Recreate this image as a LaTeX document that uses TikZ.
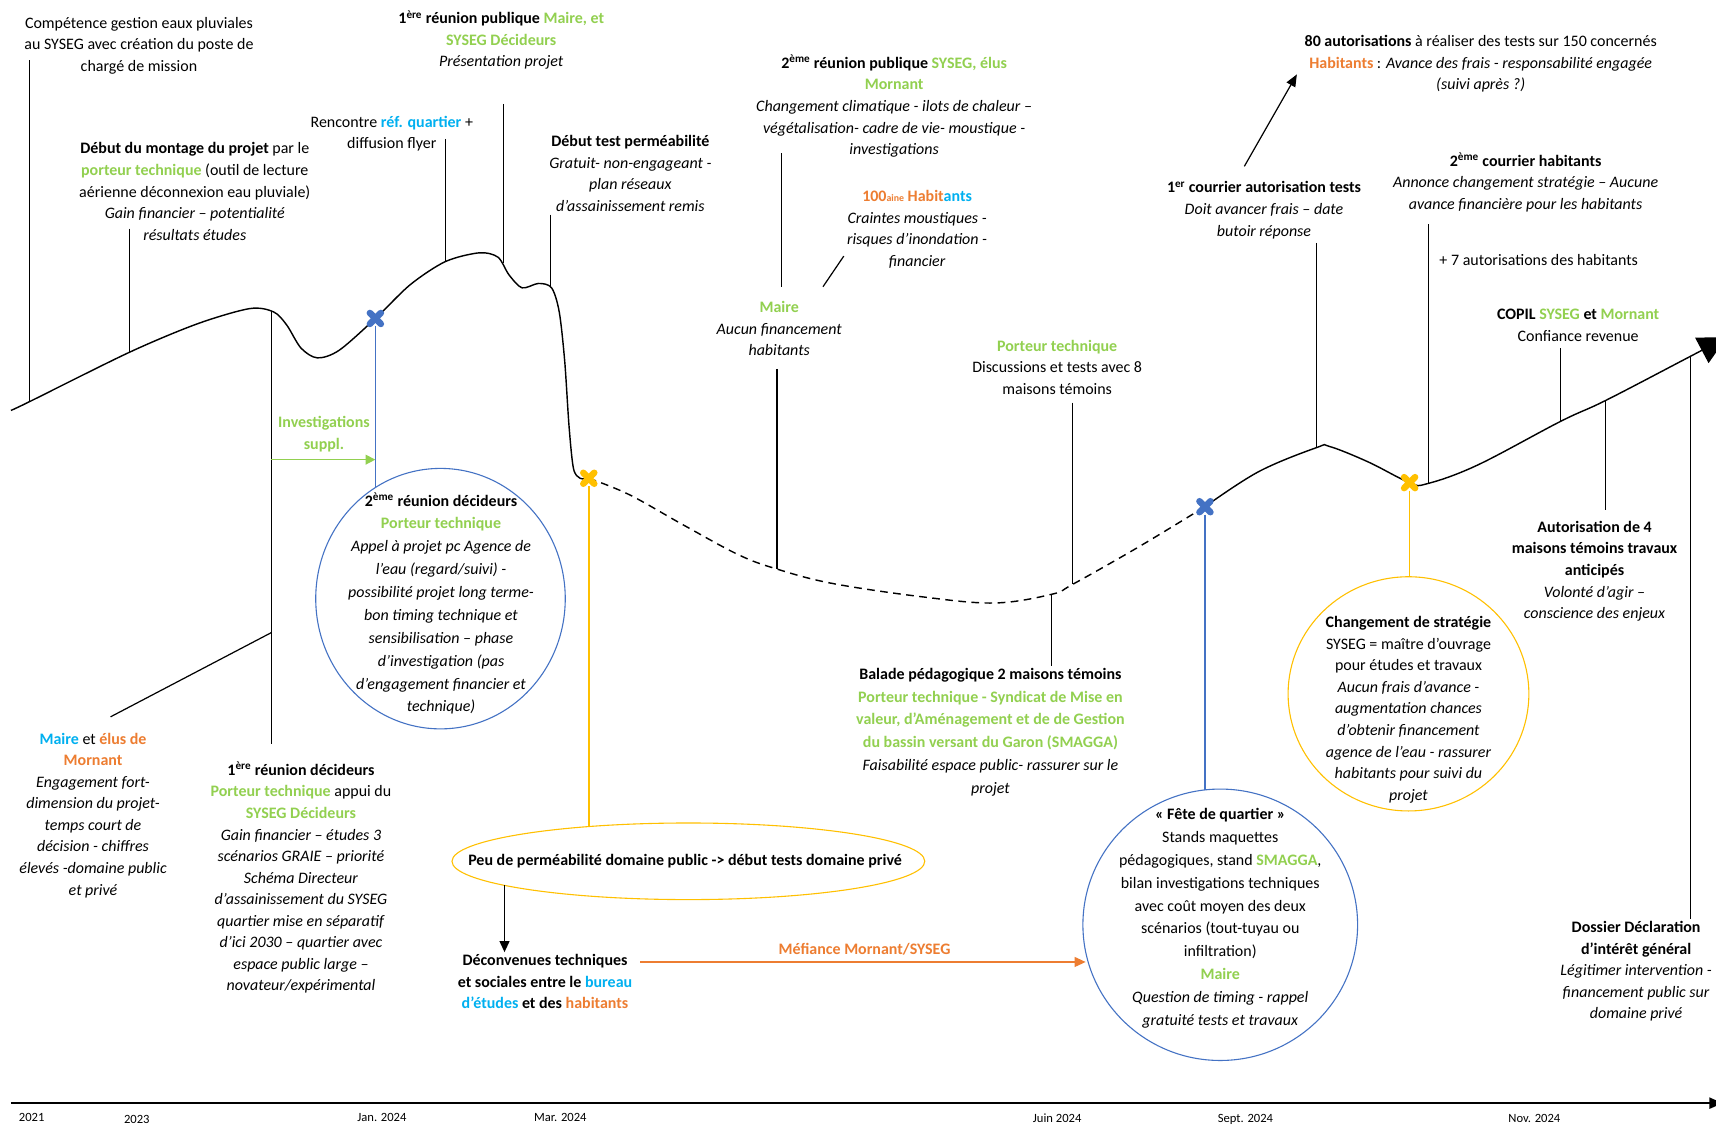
\documentclass[tikz,border=0pt]{standalone}
\usepackage{fontspec}
\setmainfont{Carlito}
\usetikzlibrary{shapes.geometric,shapes.misc,arrows.meta}
\definecolor{cgreen}{HTML}{92D050}
\definecolor{clblue}{HTML}{00B0F0}
\definecolor{corange}{HTML}{ED7D31}
\definecolor{cyellow}{HTML}{FFC000}
\definecolor{cblue}{HTML}{4472C4}
\newcommand{\GRN}[1]{\textbf{\textcolor{cgreen}{#1}}}
\newcommand{\ORG}[1]{\textbf{\textcolor{corange}{#1}}}
\newcommand{\BLU}[1]{\textbf{\textcolor{clblue}{#1}}}
\tikzset{
  txt/.style={align=center, inner sep=0pt, font=\fontsize{14.6}{19.7}\selectfont},
  ctxt/.style={align=center, inner sep=0pt, font=\fontsize{14.6}{20.9}\selectfont},
  pointer/.style={line width=1.1pt},
  curve/.style={line width=1.3pt},
  tl/.style={inner sep=0pt, font=\fontsize{11.5}{12}\selectfont},
  xmark/.style={circle, inner sep=0pt, minimum size=14pt},
  xstroke/.style={line width=6pt, line cap=round},
}
\begin{document}
\begin{tikzpicture}[x=1pt,y=-1pt]
\useasboundingbox (0,0) rectangle (1568,1029);
\fill[white] (0,0) rectangle (1568,1029);

% ---------- main curve ----------
\draw[curve] plot[smooth, tension=0.5] coordinates {(10,375) (27,367) (118,322) (180,296) (228,282) (250,285) (262,297) (275,318) (290,327) (310,320) (343,291) (375,260) (407,239) (438,231) (455,235) (465,251) (477,263) (492,259) (504,263) (511,285) (516,330) (520,390) (524,428) (530,437) (538,437)};
\draw[curve, dash pattern=on 7pt off 5pt] plot[smooth, tension=0.6] coordinates {(538,437) (575,452) (625,480) (675,507) (710,520) (760,533) (840,545) (908,551) (961,543) (980,534) (1040,500) (1101,463)};
\draw[curve, -{Triangle[length=26pt,width=26pt]}] plot[smooth, tension=0.6] coordinates {(1101,463) (1150,431) (1203,409) (1215,408) (1250,422) (1288,441) (1304,442) (1350,425) (1426,385) (1467,366) (1540,328) (1578,308)};

% ---------- markers ----------
\node[xmark] (xA) at (343,291) {};
\node[xmark] (yA) at (538,437) {};
\node[xmark] (xB) at (1101,463) {};
\node[xmark] (yB) at (1288,441) {};
\foreach \m/\c in {xA/cblue, yA/cyellow, xB/cblue, yB/cyellow} {
  \draw[xstroke, \c] ([shift={(-5,-5)}]\m.center) -- ([shift={(5,5)}]\m.center);
  \draw[xstroke, \c] ([shift={(-5,5)}]\m.center) -- ([shift={(5,-5)}]\m.center);
}

% ---------- ellipses ----------
\node[ellipse, draw=cblue, line width=1pt, minimum width=228, minimum height=238, inner sep=0pt] (eA) at (402.5,547) {};
\node[ellipse, draw=cyellow, line width=1pt, minimum width=432, minimum height=70, inner sep=0pt] (eB) at (629,787) {};
\node[ellipse, draw=cblue, line width=1pt, minimum width=251, minimum height=248, inner sep=0pt] (eC) at (1115,845) {};
\node[ellipse, draw=cyellow, line width=1pt, minimum width=220, minimum height=214, inner sep=0pt] (eD) at (1287,634) {};

% ---------- texts ----------
\node[txt] (t1) at (127,41.5) {Compétence gestion eaux pluviales\\au SYSEG avec création du poste de\\chargé de mission};
\node[txt] (t2) at (458,36.5) {\textbf{1\textsuperscript{ère} réunion publique} \GRN{Maire, et}\\\GRN{SYSEG Décideurs}\\\textit{Présentation projet}};
\node[txt] (t3) at (358,122) {Rencontre \BLU{réf. quartier} +\\diffusion flyer};
\node[txt] (t4) at (178,175) {\textbf{Début du montage du projet} par le\\\GRN{porteur technique} (outil de lecture\\aérienne déconnexion eau pluviale)\\\textit{Gain financier – potentialité}\\\textit{résultats études}};
\node[txt] (t5) at (576,158.5) {\textbf{Début test perméabilité}\\\textit{Gratuit- non-engageant -}\\\textit{plan réseaux}\\\textit{d’assainissement remis}};
\node[txt] (t6) at (817,97) {\textbf{2\textsuperscript{ème} réunion publique} \GRN{SYSEG, élus}\\\GRN{Mornant}\\\textit{Changement climatique - ilots de chaleur –}\\\textit{végétalisation- cadre de vie- moustique -}\\\textit{investigations}};
\node[txt] (t7) at (838,209.5) {\ORG{100{\fontsize{9}{9}\selectfont aine} Habit}\BLU{ants}\\\textit{Craintes moustiques -}\\\textit{risques d’inondation -}\\\textit{financier}};
\node[txt] (t8) at (712,300.5) {\GRN{Maire}\\\textit{Aucun financement}\\\textit{habitants}};
\node[txt] (t9) at (966,335.5) {\GRN{Porteur technique}\\Discussions et tests avec 8\\maisons témoins};
\node[txt] (t10) at (1353,58.5) {\textbf{80 autorisations} à réaliser des tests sur 150 concernés\\\ORG{Habitants} : \textit{Avance des frais - responsabilité engagée}\\\textit{(suivi après ?)}};
\node[txt] (t11) at (1155,192) {\textbf{1\textsuperscript{er} courrier autorisation tests}\\\textit{Doit avancer frais – date}\\\textit{butoir réponse}};
\node[txt] (t12) at (1394,166.5) {\textbf{2\textsuperscript{ème} courrier habitants}\\\textit{Annonce changement stratégie – Aucune}\\\textit{avance financière pour les habitants}};
\node[txt] (t13) at (1406,238) {+ 7 autorisations des habitants};
\node[txt] (t14) at (1442,297) {\textbf{COPIL} \GRN{SYSEG} \textbf{et} \GRN{Mornant}\\Confiance revenue};
\node[txt] (t15) at (1457,522) {\textbf{Autorisation de 4}\\\textbf{maisons témoins travaux}\\\textbf{anticipés}\\\textit{Volonté d’agir –}\\\textit{conscience des enjeux}};
\node[txt] (t16) at (1287,648.5) {\textbf{Changement de stratégie}\\SYSEG = maître d’ouvrage\\pour études et travaux\\\textit{Aucun frais d’avance -}\\\textit{augmentation chances}\\\textit{d’obtenir financement}\\\textit{agence de l’eau - rassurer}\\\textit{habitants pour suivi du}\\\textit{projet}};
\node[ctxt] (t17) at (1115,839) {\textbf{« Fête de quartier »}\\Stands maquettes\\pédagogiques, stand \GRN{SMAGGA},\\bilan investigations techniques\\avec coût moyen des deux\\scénarios (tout-tuyau ou\\infiltration)\\\GRN{Maire}\\\textit{Question de timing - rappel}\\\textit{gratuité tests et travaux}};
\node[ctxt] (t18) at (905,669) {\textbf{Balade pédagogique 2 maisons témoins}\\\GRN{Porteur technique - Syndicat de Mise en}\\\GRN{valeur, d’Aménagement et de de Gestion}\\\GRN{du bassin versant du Garon (SMAGGA)}\\\textit{Faisabilité espace public- rassurer sur le}\\\textit{projet}};
\node[txt] (t19) at (85,745) {\BLU{Maire} et \ORG{élus de}\\\ORG{Mornant}\\\textit{Engagement fort-}\\\textit{dimension du projet-}\\\textit{temps court de}\\\textit{décision - chiffres}\\\textit{élevés -domaine public}\\\textit{et privé}};
\node[txt] (t20) at (275,802) {\textbf{1\textsuperscript{ère} réunion décideurs}\\\GRN{Porteur technique} appui du\\\GRN{SYSEG Décideurs}\\\textit{Gain financier – études 3}\\\textit{scénarios GRAIE – priorité}\\\textit{Schéma Directeur}\\\textit{d’assainissement du SYSEG}\\\textit{quartier mise en séparatif}\\\textit{d’ici 2030 – quartier avec}\\\textit{espace public large –}\\\textit{novateur/expérimental}};
\node[ctxt] (t21) at (403,551.5) {\textbf{2\textsuperscript{ème} réunion décideurs}\\\GRN{Porteur technique}\\\textit{Appel à projet pc Agence de}\\\textit{l’eau (regard/suivi) -}\\\textit{possibilité projet long terme-}\\\textit{bon timing technique et}\\\textit{sensibilisation – phase}\\\textit{d’investigation (pas}\\\textit{d’engagement financier et}\\\textit{technique)}};
\node[txt] (t22) at (626,787) {\textbf{Peu de perméabilité domaine public -> début tests domaine privé}};
\node[txt] (t23) at (498,897) {\textbf{Déconvenues techniques}\\\textbf{et sociales entre le} \BLU{bureau}\\\BLU{d’études} \textbf{et des} \ORG{habitants}};
\node[txt] (t24) at (790,867) {\ORG{Méfiance Mornant/SYSEG}};
\node[txt] (t25) at (296,396.5) {\GRN{Investigations}\\\GRN{suppl.}};
\node[txt] (t26) at (1495,887.5) {\textbf{Dossier Déclaration}\\\textbf{d’intérêt général}\\\textit{Légitimer intervention -}\\\textit{financement public sur}\\\textit{domaine privé}};

% ---------- pointer coordinates ----------
\coordinate (p1a) at (27,55);   \coordinate (p1b) at (27,367);
\coordinate (p2a) at (118,209); \coordinate (p2b) at (118,322);
\coordinate (p3a) at (248,284); \coordinate (p3b) at (248,680);
\coordinate (p4a) at (101,655); \coordinate (p4b) at (248,578);
\coordinate (p5a) at (407,127); \coordinate (p5b) at (407,239);
\coordinate (p6a) at (460,95);  \coordinate (p6b) at (460,240);
\coordinate (p7a) at (503,196); \coordinate (p7b) at (503,262);
\coordinate (p8a) at (714,140); \coordinate (p8b) at (714,262);
\coordinate (p9a) at (710,337); \coordinate (p9b) at (710,520);
\coordinate (p10a) at (752,262); \coordinate (p10b) at (771,234);
\coordinate (p11a) at (980,368); \coordinate (p11b) at (980,534);
\coordinate (p12a) at (961,543); \coordinate (p12b) at (961,609);
\coordinate (p13a) at (1203,222); \coordinate (p13b) at (1203,409);
\coordinate (p14a) at (1137,152); \coordinate (p14b) at (1185,68);
\coordinate (p15a) at (1305,205); \coordinate (p15b) at (1305,441);
\coordinate (p16a) at (1426,318); \coordinate (p16b) at (1426,385);
\coordinate (p17a) at (1467,366); \coordinate (p17b) at (1467,466);
\coordinate (p18a) at (1545,325); \coordinate (p18b) at (1545,840);
\coordinate (g1) at (248,420); \coordinate (g2) at (343,420);
\coordinate (bA) at (343,446);
\coordinate (yAe) at (538,755);
\coordinate (kA) at (461,809); \coordinate (kB) at (461,870);
\coordinate (oA) at (585,879); \coordinate (oB) at (992,879);
\coordinate (bC) at (1101,722);
\coordinate (yDe) at (1288,527);

\foreach \n in {1,2,3,4,5,6,7,8,9,10,11,12,13,15,16,17,18}
  \draw[pointer] (p\n a) -- (p\n b);
\draw[pointer, -{Triangle[length=11pt,width=9pt]}] (p14a) -- (p14b);

% ---------- coloured connectors ----------
\draw[cgreen, line width=1.2pt, -{Triangle[length=9pt,width=9pt]}] (g1) -- (g2);
\draw[cblue, line width=1.2pt] (xA) -- (bA);
\draw[cyellow, line width=1.4pt] (yA) -- (yAe);
\draw[line width=1.2pt, -{Triangle[length=10pt,width=9pt]}] (kA) -- (kB);
\draw[corange, line width=1.2pt, -{Triangle[length=10pt,width=9pt]}] (oA) -- (oB);
\draw[cblue, line width=1.2pt] (xB) -- (bC);
\draw[cyellow, line width=1.4pt] (yB) -- (yDe);

% ---------- timeline ----------
\coordinate (tlA) at (10,1008); \coordinate (tlB) at (1574,1008);
\draw[line width=2pt, -{Triangle[length=12pt,width=10pt]}] (tlA) -- (tlB);
\node[tl] (d1) at (29,1021) {2021};
\node[tl] (d2) at (125,1023) {2023};
\node[tl] (d3) at (349,1021) {Jan. 2024};
\node[tl] (d4) at (512,1021) {Mar. 2024};
\node[tl] (d5) at (966,1022) {Juin 2024};
\node[tl] (d6) at (1138,1023) {Sept. 2024};
\node[tl] (d7) at (1402,1022) {Nov. 2024};
\end{tikzpicture}
\end{document}
